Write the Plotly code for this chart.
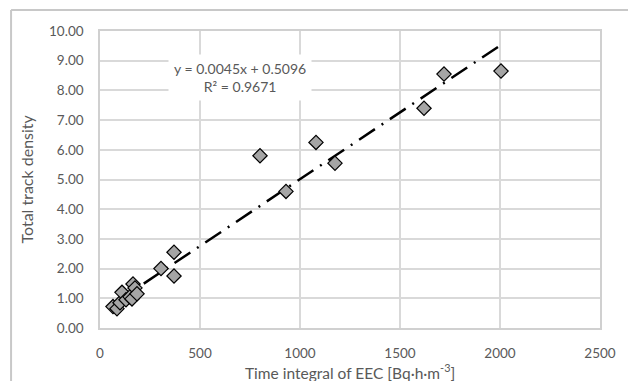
import plotly.graph_objects as go

# Data
eec = [65, 85, 100, 110, 130, 150, 160, 165, 175, 185,
       305, 370, 370, 800, 930, 1080, 1175, 1620, 1720, 2005]
track_density = [0.72, 0.65, 0.85, 1.20, 0.95, 1.05, 0.98, 1.48, 1.35, 1.15,
                 2.00, 2.55, 1.75, 5.80, 4.60, 6.25, 5.55, 7.40, 8.55, 8.65]

# Linear trendline as reported on the chart
slope = 0.0045
intercept = 0.5096
r_squared = 0.9671

x_ticks = [0, 500, 1000, 1500, 2000, 2500]
y_ticks = [0, 1, 2, 3, 4, 5, 6, 7, 8, 9, 10]

trend_x = [min(eec), max(eec)]
trend_y = [slope * v + intercept for v in trend_x]

FONT = "Lato"
TXT = "#595959"

fig = go.Figure()
fig.add_trace(go.Scatter(
    x=trend_x, y=trend_y, mode="lines",
    line=dict(color="black", width=2.5, dash="19px,8px,2px,8px"),
    showlegend=False, hoverinfo="skip"))
fig.add_trace(go.Scatter(
    x=eec, y=track_density, mode="markers",
    marker=dict(symbol="diamond", size=11, color="#a5a5a5",
                line=dict(color="black", width=1.2)),
    showlegend=False))

fig.add_annotation(
    x=700, y=8.43, xref="x", yref="y",
    text=f"y = {slope}x + {intercept}<br>R² = {r_squared}",
    showarrow=False, bgcolor="white", borderpad=5,
    font=dict(family=FONT, size=14, color=TXT), align="center")

fig.add_annotation(
    x=0.5, y=-0.148, xref="paper", yref="paper",
    text="Time integral of EEC [Bq·h·m<sup>-3</sup>]",
    showarrow=False, font=dict(family=FONT, size=15.5, color=TXT),
    xanchor="center", yanchor="middle")
fig.add_annotation(
    x=-0.148, y=0.5, xref="paper", yref="paper",
    text="Total track density", textangle=-90,
    showarrow=False, font=dict(family=FONT, size=16, color=TXT),
    xanchor="center", yanchor="middle")

# chart-area border (top and left visible in the reference crop)
bx = (10 - 100) / 506
by = (328 - 10) / 297
fig.add_shape(type="line", xref="paper", yref="paper",
              x0=bx, y0=by, x1=1.2, y1=by,
              line=dict(color="#c8c8c8", width=2))
fig.add_shape(type="line", xref="paper", yref="paper",
              x0=bx, y0=by, x1=bx, y1=-0.3,
              line=dict(color="#c8c8c8", width=2))

fig.update_layout(
    width=628, height=381,
    margin=dict(l=100, r=22, t=31, b=53),
    paper_bgcolor="white", plot_bgcolor="white",
    font=dict(family=FONT, size=13, color=TXT),
    xaxis=dict(range=[0, 2500], tickvals=x_ticks,
               ticktext=[str(v) for v in x_ticks],
               showgrid=True, gridcolor="#d9d9d9", gridwidth=1.5,
               showline=True, linecolor="#d0d0d0", linewidth=1.5,
               mirror=True, zeroline=False, ticks="",
               ticklabelstandoff=12,
               tickfont=dict(family=FONT, size=13.5, color=TXT)),
    yaxis=dict(range=[0, 10], tickvals=y_ticks,
               ticktext=[f"{v:.2f}" for v in y_ticks],
               showgrid=True, gridcolor="#d9d9d9", gridwidth=1.5,
               showline=True, linecolor="#d0d0d0", linewidth=1.5,
               mirror=True, zeroline=False, ticks="",
               ticklabelstandoff=12,
               tickfont=dict(family=FONT, size=13.5, color=TXT)),
)

fig.write_html("out.html")
